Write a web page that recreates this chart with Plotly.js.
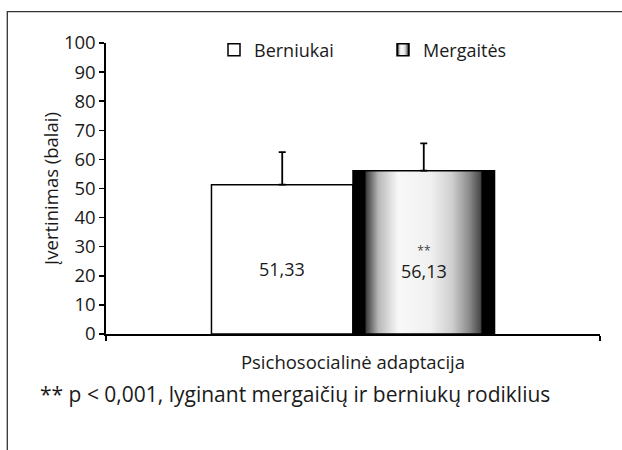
<!DOCTYPE html>
<html>
<head>
<meta charset="utf-8">
<script src="https://cdn.plot.ly/plotly-3.0.1.min.js"></script>
<style>
  html, body { margin: 0; padding: 0; background: #ffffff; }
  #chart { width: 622px; height: 450px; }
</style>
</head>
<body>
<div id="chart"></div>
<script>
// ---- data ----
const categories = ['Psichosocialinė adaptacija'];
const seriesNames = ['Berniukai', 'Mergaitės'];
const boysValues = [51.33];
const girlsValues = [56.13];
const boysErrors = [11.2];
const girlsErrors = [9.4];
const yTickValues = [0, 10, 20, 30, 40, 50, 60, 70, 80, 90, 100];
const significanceMark = '**';
const footnoteText = '** p < 0,001, lyginant mergaičių ir berniukų rodiklius';
const yAxisTitle = 'Įvertinimas (balai)';

// ---- helpers ----
const fmt = v => v.toFixed(2).replace('.', ',');
const FONT = '"Open Sans", "Noto Sans", sans-serif';
const INK = '#1a1a1a';

// ---- layout geometry (pixels) ----
const W = 622, H = 450;
const M = { l: 106, r: 22, t: 43, b: 116 };
const PW = W - M.l - M.r, PH = H - M.t - M.b;
const px2x = p => (p - M.l) / PW;
const py2y = p => (H - M.b - p) / PH;

const traces = [
  {
    type: 'bar', name: seriesNames[0], x: categories, y: boysValues,
    marker: { color: '#ffffff', line: { color: '#000000', width: 1.5 } },
    error_y: { type: 'data', symmetric: false, array: boysErrors, arrayminus: [0],
               color: '#000000', thickness: 1.8, width: 3.5 },
    hoverinfo: 'none'
  },
  {
    type: 'bar', name: seriesNames[1], x: categories, y: girlsValues,
    marker: { color: '#b0b0b0', line: { color: '#000000', width: 1.5 } },
    error_y: { type: 'data', symmetric: false, array: girlsErrors, arrayminus: [0],
               color: '#000000', thickness: 1.8, width: 3.5 },
    hoverinfo: 'none'
  }
];

const layout = {
  width: W, height: H,
  margin: M,
  paper_bgcolor: '#ffffff', plot_bgcolor: '#ffffff',
  font: { family: FONT, size: 18, color: INK },
  barmode: 'group', bargap: 0.427, bargroupgap: 0,
  showlegend: true,
  legend: {
    orientation: 'h', x: px2x(214), xanchor: 'left', y: py2y(50), yanchor: 'middle',
    font: { family: FONT, size: 18, color: INK }, entrywidth: 124,
    bgcolor: 'rgba(0,0,0,0)', traceorder: 'normal'
  },
  xaxis: {
    type: 'category', range: [-0.5, 0.5], tickson: 'boundaries',
    ticks: 'outside', ticklen: 5, tickwidth: 1.5, tickcolor: '#000',
    showline: true, linecolor: '#000', linewidth: 1.6,
    showgrid: false, zeroline: false, ticklabelstandoff: 11,
    tickfont: { family: FONT, size: 18.5, color: INK }, fixedrange: true
  },
  yaxis: {
    range: [0, 100], tickvals: yTickValues, ticktext: yTickValues.map(String),
    ticks: 'outside', ticklen: 5, tickwidth: 1.5, tickcolor: '#000',
    showline: true, linecolor: '#000', linewidth: 1.6,
    showgrid: false, zeroline: false, ticklabelstandoff: 0,
    tickfont: { family: FONT, size: 18.5, color: INK },
    title: { text: yAxisTitle, font: { family: FONT, size: 18.5, color: INK } },
    fixedrange: true
  },
  shapes: [
    { type: 'rect', xref: 'paper', yref: 'paper',
      x0: px2x(7.3), x1: px2x(660), y0: py2y(480), y1: py2y(11.7),
      line: { color: '#333', width: 1.3 }, fillcolor: 'rgba(0,0,0,0)', layer: 'below' }
  ],
  annotations: [
    { x: categories[0], xref: 'x', xshift: -71, y: 22.5, yref: 'y',
      text: fmt(boysValues[0]), showarrow: false, yanchor: 'middle',
      font: { family: FONT, size: 18, color: INK } },
    { x: categories[0], xref: 'x', xshift: 71, y: 24.7, yref: 'y',
      text: '<span style="font-size:12px;fill:#444">' + significanceMark + '</span><br>' +
            '<span style="font-size:18px">' + fmt(girlsValues[0]) + '</span>',
      showarrow: false, yanchor: 'middle',
      font: { family: FONT, size: 18, color: INK } },
    { x: px2x(38), xref: 'paper', xanchor: 'left', y: py2y(394), yref: 'paper', yanchor: 'middle',
      text: footnoteText, showarrow: false,
      font: { family: FONT, size: 21, color: INK } }
  ]
};

Plotly.newPlot('chart', traces, layout, { staticPlot: true, displayModeBar: false }).then(gd => {
  // horizontal metallic gradient for the second series (bar and legend swatch)
  const svg = gd.querySelector('.main-svg');
  const NS = 'http://www.w3.org/2000/svg';
  let defs = svg.querySelector('defs');
  if (!defs) { defs = document.createElementNS(NS, 'defs'); svg.insertBefore(defs, svg.firstChild); }
  const grad = document.createElementNS(NS, 'linearGradient');
  grad.setAttribute('id', 'mergGrad');
  grad.setAttribute('x1', '0'); grad.setAttribute('x2', '1');
  grad.setAttribute('y1', '0'); grad.setAttribute('y2', '0');
  const stops = [
    [0, '#000'], [0.087, '#000'], [0.09, '#3a3a3a'], [0.18, '#b8b8b8'],
    [0.32, '#f8f8f8'], [0.55, '#f0f0f0'], [0.7, '#cfcfcf'], [0.82, '#8c8c8c'],
    [0.9, '#4a4a4a'], [0.912, '#000'], [1, '#000']
  ];
  stops.forEach(([o, c]) => {
    const s = document.createElementNS(NS, 'stop');
    s.setAttribute('offset', o); s.setAttribute('stop-color', c);
    grad.appendChild(s);
  });
  defs.appendChild(grad);
  const barTraces = gd.querySelectorAll('.barlayer .trace');
  if (barTraces[1]) barTraces[1].querySelectorAll('.point path').forEach(p => { p.style.fill = 'url(#mergGrad)'; });
  const legTraces = gd.querySelectorAll('.legend .traces');
  if (legTraces[1]) legTraces[1].querySelectorAll('.legendpoints path').forEach(p => { p.style.fill = 'url(#mergGrad)'; });
});
</script>
</body>
</html>
